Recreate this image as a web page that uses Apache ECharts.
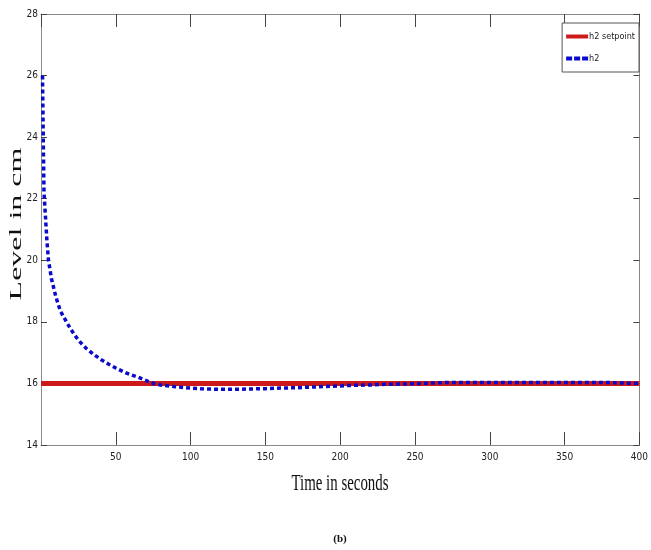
<!DOCTYPE html>
<html>
<head>
<meta charset="utf-8">
<script src="https://cdn.jsdelivr.net/npm/echarts@6/dist/echarts.min.js"></script>
<style>
  html, body { margin: 0; padding: 0; background: #fff; }
  #main { width: 651px; height: 550px; }
</style>
</head>
<body>
<div id="main"></div>
<script>
// level response
var timeSec = [1, 1.5, 2, 3, 4, 5, 7, 10, 13, 17, 20, 25, 30, 35, 40, 45, 50, 55, 60, 65, 70, 75, 80,
    90, 100, 110, 120, 130, 140, 150, 160, 170, 180, 190, 200, 210, 220, 230, 240, 250, 260, 270,
    280, 290, 300, 310, 320, 330, 340, 350, 360, 370, 380, 390, 400];
var h2Level = [26, 24, 22.2, 21.4, 20.6, 20.0, 19.4, 18.8, 18.35, 18.0, 17.75, 17.4, 17.15, 16.95, 16.78, 16.63, 16.5, 16.38, 16.28, 16.2, 16.1, 16.0, 15.95,
    15.89, 15.85, 15.82, 15.81, 15.81, 15.82, 15.83, 15.85, 15.86, 15.88, 15.9, 15.92, 15.94, 15.95, 15.97, 15.98, 15.99, 16.01, 16.03,
    16.03, 16.03, 16.03, 16.03, 16.03, 16.03, 16.03, 16.03, 16.03, 16.03, 16.03, 16.01, 16.0];
var setpointTime = [0, 400];
var setpointLevel = [16, 16];

var narrow = "'Liberation Sans Narrow', 'DejaVu Sans Condensed', 'Roboto', sans-serif";
var serif = "'Liberation Serif', 'DejaVu Serif', serif";

var myChart = echarts.init(document.getElementById('main'));

var option = {
    backgroundColor: '#ffffff',
    animation: false,
    grid: {left: 41, right: 11, top: 14, bottom: 105},
    legend: {
        orient: 'vertical',
        right: 12,
        top: 23,
        padding: [9, 4, 9, 4],
        itemGap: 13,
        itemWidth: 22,
        itemHeight: 4,
        backgroundColor: '#fff',
        borderColor: '#555',
        borderWidth: 1,
        textStyle: {fontFamily: narrow, fontSize: 9, color: '#222', padding: [0, 0, 0, -4]},
        data: [
            {name: 'h2 setpoint', icon: 'rect'},
            {name: 'h2', icon: 'path://M0,0h6v4h-6zM8,0h6v4h-6zM16,0h6v4h-6z'}
        ]
    },
    xAxis: [
        {
            type: 'value', min: 0, max: 400, interval: 50,
            axisLine: {onZero: false, lineStyle: {color: '#888', width: 1}},
            axisTick: {inside: true, length: 13, lineStyle: {color: '#444'}},
            axisLabel: {showMinLabel: false, fontFamily: narrow, fontSize: 10, color: '#222', margin: 7},
            splitLine: {show: false}
        },
        {
            type: 'value', position: 'top', min: 0, max: 400, interval: 50,
            axisLine: {lineStyle: {color: '#888', width: 1}},
            axisTick: {inside: true, length: 13, lineStyle: {color: '#444'}},
            axisLabel: {show: false},
            splitLine: {show: false}
        }
    ],
    yAxis: [
        {
            type: 'value', min: 14, max: 28, interval: 2,
            axisLine: {show: true, onZero: false, lineStyle: {color: '#888', width: 1}},
            axisTick: {show: true, inside: true, length: 6, lineStyle: {color: '#444'}},
            axisLabel: {fontFamily: narrow, fontSize: 10, color: '#222', margin: 3},
            splitLine: {show: false}
        },
        {
            type: 'value', position: 'right', min: 14, max: 28, interval: 2,
            axisLine: {show: true, onZero: false, lineStyle: {color: '#888', width: 1}},
            axisTick: {show: true, inside: true, length: 6, lineStyle: {color: '#444', width: 1}},
            axisLabel: {show: false},
            splitLine: {show: false}
        }
    ],
    graphic: [
        {
            type: 'text', x: 17, y: 224, rotation: Math.PI / 2, scaleX: 2.0, scaleY: 1,
            style: {text: 'Level in cm', font: '16px ' + serif, fill: '#111', align: 'center', verticalAlign: 'middle'}
        },
        {
            type: 'text', x: 340, y: 484, scaleX: 0.62, scaleY: 1,
            style: {text: 'Time in seconds', font: '24px ' + serif, fill: '#111', align: 'center', verticalAlign: 'middle'}
        },
        {
            type: 'text', x: 340, y: 539,
            style: {text: '(b)', font: 'bold 11px ' + serif, fill: '#111', align: 'center', verticalAlign: 'middle'}
        }
    ],
    series: [
        {
            name: 'h2 setpoint',
            type: 'line',
            showSymbol: false,
            symbol: 'none',
            data: setpointTime.map(function (t, i) { return [t, setpointLevel[i]]; }),
            lineStyle: {color: '#cc1a1a', width: 5},
            itemStyle: {color: '#cc1a1a'},
            z: 2
        },
        {
            name: 'h2',
            type: 'line',
            showSymbol: false,
            symbol: 'none',
            data: timeSec.map(function (t, i) { return [t, h2Level[i]]; }),
            lineStyle: {color: '#0a0acc', width: 3.5, type: [4, 3]},
            itemStyle: {color: '#0a0acc'},
            z: 3
        }
    ]
};
myChart.setOption(option);
</script>
</body>
</html>
